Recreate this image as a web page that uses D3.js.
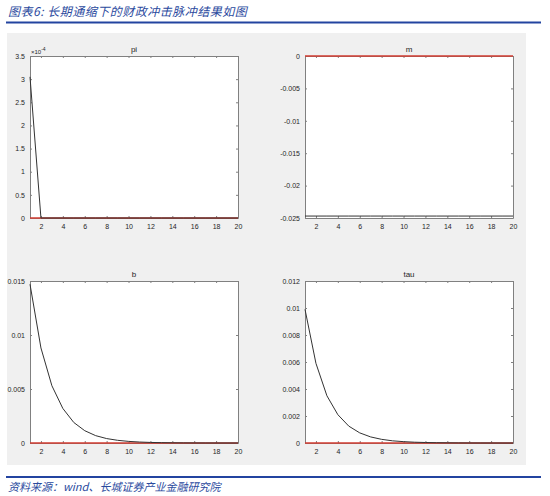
<!DOCTYPE html>
<html>
<head>
<meta charset="utf-8">
<script src="https://cdn.jsdelivr.net/npm/d3@7"></script>
<style>
  body { margin: 0; background: #fff; }
  svg text { font-family: "Liberation Sans Narrow", "Liberation Sans", Arial, sans-serif; }
  .cap { font-family: "Noto Sans CJK SC", sans-serif; font-style: italic; fill: #2b4a9e; }
</style>
</head>
<body>
<svg id="chart" width="550" height="496"></svg>
<script>
// impulse responses, 20 periods
var periods = d3.range(1, 21);
var piVals = [0.000305, 0, 0, 0, 0, 0, 0, 0, 0, 0, 0, 0, 0, 0, 0, 0, 0, 0, 0, 0];
var mVals = [-0.0247, -0.0247, -0.0247, -0.0247, -0.0247, -0.0247, -0.0247, -0.0247, -0.0247, -0.0247,
             -0.0247, -0.0247, -0.0247, -0.0247, -0.0247, -0.0247, -0.0247, -0.0247, -0.0247, -0.0247];
var bVals = [0.0147, 0.0088, 0.0053, 0.0032, 0.0019, 0.00114, 0.00068, 0.00041, 0.00025, 0.00015,
             0.00009, 0.000053, 0.000032, 0.000019, 0.000011, 0.000007, 0.000004, 0.0000025, 0.0000015, 0.0000009];
var tauVals = [0.0099, 0.0059, 0.0035, 0.0021, 0.00125, 0.00075, 0.00045, 0.00027, 0.00016, 0.0001,
               0.00006, 0.000036, 0.000021, 0.000013, 0.000008, 0.0000046, 0.0000028, 0.0000017, 0.000001, 0.0000006];

// tick labels
var xTicks = [2, 4, 6, 8, 10, 12, 14, 16, 18, 20];
var piTicks = [0, 0.00005, 0.0001, 0.00015, 0.0002, 0.00025, 0.0003, 0.00035];
var mTicks = [-0.025, -0.02, -0.015, -0.01, -0.005, 0];
var bTicks = [0, 0.005, 0.01, 0.015];
var tauTicks = [0, 0.002, 0.004, 0.006, 0.008, 0.01, 0.012];

var svg = d3.select("#chart");

// header / footer
svg.append("text").attr("class", "cap").attr("x", 8).attr("y", 16)
  .style("font-size", "12px").style("letter-spacing", "0.5px")
  .text("图表6:  长期通缩下的财政冲击脉冲结果如图");
svg.append("line").attr("x1", 6).attr("x2", 541).attr("y1", 22.5).attr("y2", 22.5)
  .attr("stroke", "#2344a0").attr("stroke-width", 2);
svg.append("rect").attr("x", 7).attr("y", 33).attr("width", 519).attr("height", 432)
  .attr("fill", "#f0f0f0");
svg.append("line").attr("x1", 6).attr("x2", 541).attr("y1", 477).attr("y2", 477)
  .attr("stroke", "#2344a0").attr("stroke-width", 2);
svg.append("text").attr("class", "cap").attr("x", 8).attr("y", 491)
  .style("font-size", "11px").text("资料来源：wind、长城证券产业金融研究院");

function panel(cfg) {
  var w = 208, h = 162;
  var g = svg.append("g").attr("transform", "translate(" + cfg.left + "," + cfg.top + ")");
  var x = d3.scaleLinear().domain([1, 20]).range([0, w]);
  var y = d3.scaleLinear().domain(cfg.domain).range([h, 0]);
  var fmt = cfg.fmt || function(d) { return String(+d.toPrecision(6)); };

  g.append("rect").attr("width", w).attr("height", h).attr("fill", "#fff");

  var axes = [
    g.append("g").attr("transform", "translate(0," + h + ")")
      .call(d3.axisBottom(x).tickValues(xTicks).tickSizeInner(-2).tickSizeOuter(0).tickPadding(6)),
    g.append("g").call(d3.axisTop(x).tickValues(xTicks).tickSizeInner(-2).tickSizeOuter(0).tickFormat("")),
    g.append("g").call(d3.axisLeft(y).tickValues(cfg.ticks).tickSizeInner(-2).tickSizeOuter(0)
      .tickPadding(5).tickFormat(fmt)),
    g.append("g").attr("transform", "translate(" + w + ",0)")
      .call(d3.axisRight(y).tickValues(cfg.ticks).tickSizeInner(-2).tickSizeOuter(0).tickFormat(""))
  ];
  axes.forEach(function(a) {
    a.select(".domain").attr("stroke", "#808080");
    a.selectAll(".tick line").attr("stroke", "#808080");
    a.selectAll("text").attr("fill", "#262626").style("font-size", "7px");
  });

  // zero line
  g.append("line").attr("x1", 0).attr("x2", w).attr("y1", y(0)).attr("y2", y(0))
    .attr("stroke", "#d23c32").attr("stroke-width", 1.5);

  var line = d3.line().x(function(d, i) { return x(periods[i]); }).y(function(d) { return y(d); });
  g.append("path").datum(cfg.values).attr("d", line)
    .attr("fill", "none").attr("stroke", "#333").attr("stroke-width", 1);

  g.append("text").attr("x", w / 2).attr("y", -4).attr("text-anchor", "middle")
    .attr("fill", "#262626").style("font-size", "8px").text(cfg.title);

  if (cfg.expo) {
    var t = g.append("text").attr("x", 1).attr("y", -2).attr("fill", "#262626").style("font-size", "6px");
    t.append("tspan").text("×10");
    t.append("tspan").attr("dy", -3).style("font-size", "5px").text(cfg.expo);
  }
}

panel({ left: 30, top: 56, title: "pi", values: piVals, domain: [0, 0.00035], ticks: piTicks,
        fmt: function(d) { return String(+(d / 0.0001).toFixed(2)); }, expo: "-4" });
panel({ left: 305, top: 56, title: "m", values: mVals, domain: [-0.025, 0], ticks: mTicks });
panel({ left: 30, top: 281, title: "b", values: bVals, domain: [0, 0.015], ticks: bTicks });
panel({ left: 305, top: 281, title: "tau", values: tauVals, domain: [0, 0.012], ticks: tauTicks });
</script>
</body>
</html>
